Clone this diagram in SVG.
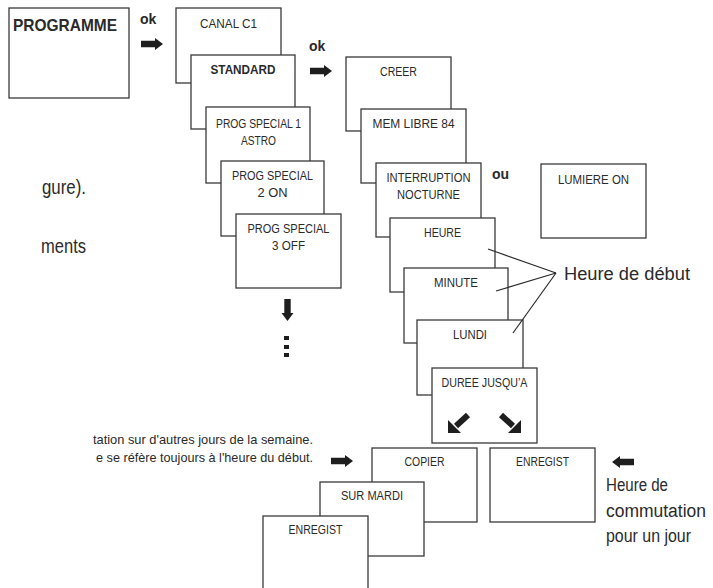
<svg xmlns="http://www.w3.org/2000/svg" xmlns:xlink="http://www.w3.org/1999/xlink" width="713" height="588" viewBox="0 0 713 588">
<style>
.box{fill:#fff;stroke:#3a3a3a;stroke-width:1.3}
.lb{font-family:"Liberation Sans",Arial,sans-serif;font-size:12.5px;fill:#2a2a2a;text-anchor:middle}
.bd{font-weight:bold}
.tx{font-family:"Liberation Sans",Arial,sans-serif;fill:#2a2a2a}
.ok{font-family:"Liberation Sans",Arial,sans-serif;font-size:14px;font-weight:bold;fill:#2a2a2a}
.ar{fill:#1e1e1e}
.ln{stroke:#2a2a2a;stroke-width:1.2;fill:none}
</style>
<defs>
<path id="rarrow" d="M0,-3.2 H14 V-6 L22,0 L14,6 V3.2 H0 Z"/>
</defs>

<g id="notes">
<text class="tx" x="86" y="194" font-size="20" text-anchor="end" textLength="44" lengthAdjust="spacingAndGlyphs">gure).</text>
<text class="tx" x="86" y="253" font-size="20" text-anchor="end" textLength="45" lengthAdjust="spacingAndGlyphs">ments</text>
<text class="tx" x="313" y="444" font-size="13" text-anchor="end" textLength="220" lengthAdjust="spacingAndGlyphs">tation sur d'autres jours de la semaine.</text>
<text class="tx" x="313" y="462" font-size="13" text-anchor="end" textLength="217" lengthAdjust="spacingAndGlyphs">e se réfère toujours à l'heure du début.</text>
<text class="tx" x="564" y="280" font-size="18" textLength="126" lengthAdjust="spacingAndGlyphs">Heure de début</text>
<text class="tx" x="606" y="491" font-size="18" textLength="62" lengthAdjust="spacingAndGlyphs">Heure de</text>
<text class="tx" x="606" y="517" font-size="18" textLength="100" lengthAdjust="spacingAndGlyphs">commutation</text>
<text class="tx" x="606" y="542" font-size="18" textLength="85" lengthAdjust="spacingAndGlyphs">pour un jour</text>
<text class="ok" x="140" y="24">ok</text>
<text class="ok" x="309" y="51">ok</text>
<text class="ok" x="492" y="179">ou</text>
</g>

<g id="programme">
<rect class="box" x="9" y="8" width="120" height="90"/>
<text class="tx bd" x="13" y="31" font-size="17" textLength="104" lengthAdjust="spacingAndGlyphs">PROGRAMME</text>
</g>

<g id="canal">
<rect class="box" x="176" y="8" width="105" height="75"/>
<text class="lb" x="228.5" y="28" textLength="57" lengthAdjust="spacingAndGlyphs">CANAL C1</text>
</g>
<g id="standard">
<rect class="box" x="191" y="55" width="104" height="74"/>
<text class="lb bd" x="243" y="74" textLength="65" lengthAdjust="spacingAndGlyphs">STANDARD</text>
</g>
<g id="prog1">
<rect class="box" x="206" y="107" width="104" height="76"/>
<text class="lb" x="258.5" y="128" textLength="85" lengthAdjust="spacingAndGlyphs">PROG SPECIAL 1</text>
<text class="lb" x="258.5" y="145" textLength="35" lengthAdjust="spacingAndGlyphs">ASTRO</text>
</g>
<g id="prog2">
<rect class="box" x="221" y="161" width="103" height="75"/>
<text class="lb" x="272.5" y="180" textLength="81" lengthAdjust="spacingAndGlyphs">PROG SPECIAL</text>
<text class="lb" x="272.5" y="197" textLength="30" lengthAdjust="spacingAndGlyphs">2 ON</text>
</g>
<g id="prog3">
<rect class="box" x="236" y="214" width="105" height="74"/>
<text class="lb" x="288.5" y="233" textLength="82" lengthAdjust="spacingAndGlyphs">PROG SPECIAL</text>
<text class="lb" x="288.5" y="250" textLength="33" lengthAdjust="spacingAndGlyphs">3 OFF</text>
</g>

<g id="creer">
<rect class="box" x="346" y="57" width="105" height="74"/>
<text class="lb" x="398.5" y="76" textLength="37" lengthAdjust="spacingAndGlyphs">CREER</text>
</g>
<g id="mem">
<rect class="box" x="361" y="109" width="105" height="74"/>
<text class="lb" x="413.5" y="128" textLength="82" lengthAdjust="spacingAndGlyphs">MEM LIBRE 84</text>
</g>
<g id="interruption">
<rect class="box" x="376" y="163" width="105" height="74"/>
<text class="lb" x="428.5" y="182" textLength="84" lengthAdjust="spacingAndGlyphs">INTERRUPTION</text>
<text class="lb" x="428.5" y="199" textLength="63" lengthAdjust="spacingAndGlyphs">NOCTURNE</text>
</g>
<g id="lumiere">
<rect class="box" x="541" y="164" width="105" height="74"/>
<text class="lb" x="593.5" y="184" textLength="71" lengthAdjust="spacingAndGlyphs">LUMIERE ON</text>
</g>
<g id="heure">
<rect class="box" x="390" y="218" width="105" height="74"/>
<text class="lb" x="442.5" y="237" textLength="37" lengthAdjust="spacingAndGlyphs">HEURE</text>
</g>
<g id="minute">
<rect class="box" x="404" y="268" width="104" height="75"/>
<text class="lb" x="456" y="287" textLength="44" lengthAdjust="spacingAndGlyphs">MINUTE</text>
</g>
<g id="lundi">
<rect class="box" x="417" y="320" width="106" height="75"/>
<text class="lb" x="470" y="339" textLength="34" lengthAdjust="spacingAndGlyphs">LUNDI</text>
</g>
<g id="duree">
<rect class="box" x="432" y="368" width="105" height="75"/>
<text class="lb" x="484.5" y="387" textLength="86" lengthAdjust="spacingAndGlyphs">DUREE JUSQU’A</text>
</g>
<g id="copier">
<rect class="box" x="372" y="448" width="105" height="74"/>
<text class="lb" x="424.5" y="466" textLength="40" lengthAdjust="spacingAndGlyphs">COPIER</text>
</g>
<g id="enregist1">
<rect class="box" x="490" y="448" width="105" height="74"/>
<text class="lb" x="542.5" y="466" textLength="53" lengthAdjust="spacingAndGlyphs">ENREGIST</text>
</g>
<g id="surmardi">
<rect class="box" x="320" y="482" width="104" height="74"/>
<text class="lb" x="372" y="500" textLength="62" lengthAdjust="spacingAndGlyphs">SUR MARDI</text>
</g>
<g id="enregist2">
<rect class="box" x="263" y="516" width="105" height="78"/>
<text class="lb" x="315.5" y="534" textLength="54" lengthAdjust="spacingAndGlyphs">ENREGIST</text>
</g>

<g id="connectors">
<use xlink:href="#rarrow" class="ar" transform="translate(141,44)"/>
<use xlink:href="#rarrow" class="ar" transform="translate(310,71)"/>
<use xlink:href="#rarrow" class="ar" transform="translate(331,461)"/>
<use xlink:href="#rarrow" class="ar" transform="translate(634,462) rotate(180)"/>
<use xlink:href="#rarrow" class="ar" transform="translate(287.5,299) rotate(90)"/>
<rect class="ar" x="284" y="336" width="5" height="4"/>
<rect class="ar" x="284" y="345" width="5" height="4"/>
<rect class="ar" x="284" y="353" width="5" height="4"/>
<line class="ln" x1="488" y1="249" x2="556" y2="273"/>
<line class="ln" x1="496" y1="291" x2="556" y2="273"/>
<line class="ln" x1="513" y1="333" x2="556" y2="273"/>
<g class="ar">
<line x1="468" y1="415" x2="456" y2="426" stroke="#1e1e1e" stroke-width="6"/>
<polygon points="448,433 448,420 461,433"/>
<line x1="501" y1="415" x2="513" y2="426" stroke="#1e1e1e" stroke-width="6"/>
<polygon points="521,433 521,420 508,433"/>
</g>
</g>
</svg>
